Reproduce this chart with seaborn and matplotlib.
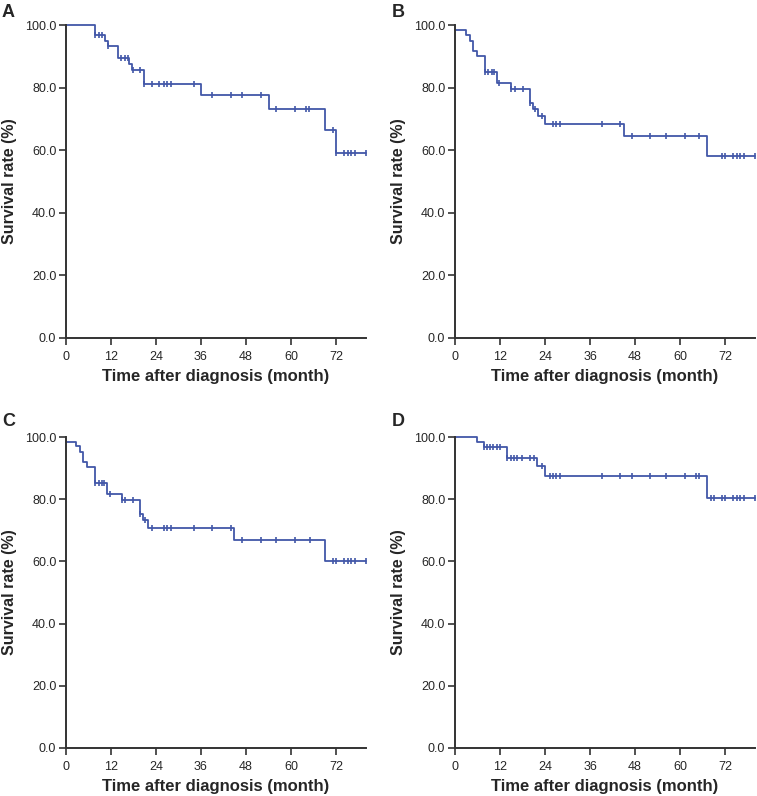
import numpy as np
import pandas as pd
import matplotlib
matplotlib.use("Agg")
import matplotlib.pyplot as plt
import seaborn as sns

# Kaplan-Meier curves: start value, event times, survival after each event,
# and censored observation times (the little tick marks)
A_start = 100.0
A_times = [7.8, 10.5, 11.3, 13.9, 16.9, 17.6, 20.9, 36.0, 54.0, 69.1, 72.0]
A_surv = [96.8, 94.8, 93.2, 89.4, 87.4, 85.5, 81.1, 77.6, 73.1, 66.5, 59.0]
A_censor = [7.8, 8.7, 9.6, 11.3, 14.7, 15.6, 16.4, 17.9, 19.8, 20.9, 22.9, 24.9, 26.0, 26.9,
            28.0, 34.0, 38.9, 44.0, 46.9, 52.0, 56.0, 61.1, 64.0, 64.9, 71.1, 72.0, 74.2,
            75.1, 76.0, 77.1, 80.0]

B_start = 98.4
B_times = [2.9, 4.0, 4.9, 5.8, 8.0, 11.1, 14.9, 20.0, 20.7, 22.0, 24.0, 45.1, 67.1]
B_surv = [96.8, 95.0, 91.7, 90.1, 85.1, 81.6, 79.6, 75.2, 73.1, 70.9, 68.3, 64.5, 58.1]
B_censor = [8.0, 8.9, 9.8, 10.4, 11.8, 14.9, 16.0, 18.0, 20.0, 21.3, 23.1, 26.0, 26.9, 28.0,
            39.1, 44.0, 47.1, 52.0, 56.2, 61.2, 65.1, 71.1, 72.0, 74.2, 75.1, 76.0, 77.1, 80.0]

C_start = 98.5
C_times = [2.7, 3.7, 4.6, 5.6, 7.8, 10.9, 14.8, 19.8, 20.4, 21.8, 44.9, 69.1]
C_surv = [97.0, 95.2, 92.1, 90.5, 85.3, 81.7, 79.7, 75.4, 73.3, 70.8, 66.9, 60.2]
C_censor = [7.8, 8.7, 9.6, 10.2, 11.7, 14.8, 15.8, 17.8, 19.8, 21.0, 22.9, 26.0, 26.9, 28.0,
            34.0, 38.9, 44.0, 46.9, 52.0, 56.0, 61.1, 65.0, 71.1, 72.0, 74.2, 75.1, 76.0,
            77.1, 80.0]

D_start = 100.0
D_times = [5.8, 7.6, 13.9, 21.8, 24.0, 67.1]
D_surv = [98.4, 96.8, 93.1, 90.7, 87.5, 80.3]
D_censor = [7.6, 8.4, 9.3, 10.2, 11.1, 12.0, 13.9, 14.9, 15.8, 16.6, 17.8, 20.0, 21.1, 23.1,
            25.2, 26.0, 26.9, 28.0, 39.1, 44.0, 47.1, 52.0, 56.2, 61.2, 64.2, 65.1, 68.2,
            69.1, 71.1, 72.0, 74.2, 75.1, 76.0, 77.1, 80.0]

x_ticks = [0, 12, 24, 36, 48, 60, 72]
y_ticks = [0, 20, 40, 60, 80, 100]
x_max = 80

sns.set_style("ticks")
plt.rcParams['font.family'] = ['Liberation Sans', 'DejaVu Sans']

line_color = '#4257a8'
W, H = 757, 796
fig = plt.figure(figsize=(W / 100, H / 100), dpi=100)

panels = [
    ('A', A_start, A_times, A_surv, A_censor, (66, 338, 313), (2, 4)),
    ('B', B_start, B_times, B_surv, B_censor, (455, 338, 313), (392, 4)),
    ('C', C_start, C_times, C_surv, C_censor, (66, 748, 311), (2, 413)),
    ('D', D_start, D_times, D_surv, D_censor, (455, 748, 311), (392, 413)),
]

for letter, start, times, surv, censor, (left, bottom, height), (lx, ly) in panels:
    ax = fig.add_axes([left / W, 1 - bottom / H, 300 / W, height / H])

    # step curve
    t = [0] + list(times) + [x_max]
    s = [start] + list(surv) + [surv[-1]]
    curve = pd.DataFrame({'time': t, 'surv': s})
    sns.lineplot(data=curve, x='time', y='surv', drawstyle='steps-post', estimator=None,
                 color=line_color, linewidth=1.3, ax=ax, clip_on=False)

    # censor marks sit on the curve value at that time
    idx = np.searchsorted(t, censor, side='right') - 1
    cens = pd.DataFrame({'time': censor, 'surv': np.array(s)[idx]})
    sns.scatterplot(data=cens, x='time', y='surv', marker='|', s=22, linewidth=1.2,
                    color=line_color, ax=ax, clip_on=False, zorder=3)

    ax.set_xlim(0, x_max)
    ax.set_ylim(0, 100)
    ax.set_xticks(x_ticks)
    ax.set_yticks(y_ticks)
    ax.set_yticklabels([f'{v:.1f}' for v in y_ticks])
    ax.tick_params(labelsize=9, length=5, width=1.2, color='#333333', pad=2)
    ax.tick_params(axis='x', pad=4)
    for sp in ['left', 'bottom']:
        ax.spines[sp].set_linewidth(1.4)
        ax.spines[sp].set_color('#333333')
    sns.despine(ax=ax)
    ax.set_xlabel('Time after diagnosis (month)', fontsize=12, fontweight='bold', labelpad=5)
    ax.set_ylabel('Survival rate (%)', fontsize=11.5, fontweight='bold', labelpad=6)

    fig.text(lx / W, 1 - ly / H, letter, fontsize=13, fontweight='bold', va='top', ha='left')

fig.savefig('out.png', dpi=100)
